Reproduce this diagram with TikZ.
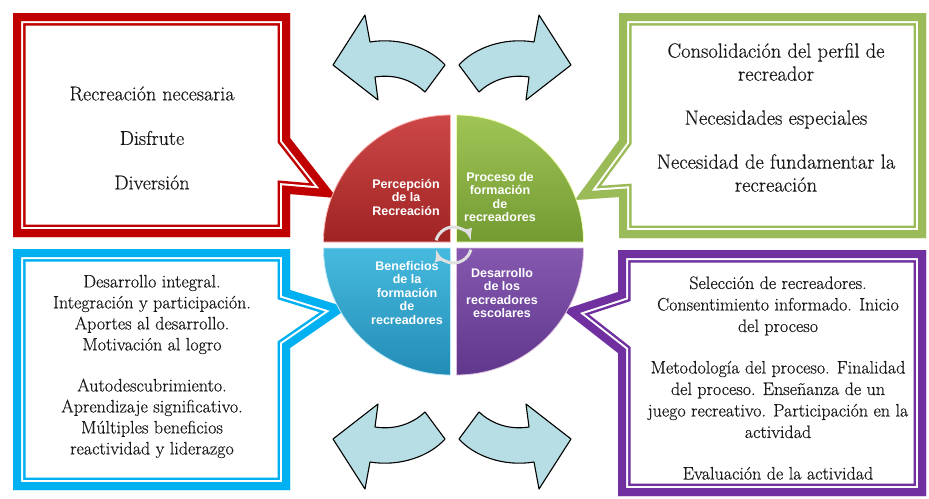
\documentclass[tikz,border=0pt]{standalone}
\usepackage{fontspec}
\setmainfont{Latin Modern Roman}
\newfontfamily\boxfont{Latin Modern Roman}[FakeBold=0.5]
\newfontfamily\quadfont{Liberation Sans}
\usetikzlibrary{arrows}

\definecolor{boxred}{RGB}{192,0,0}
\definecolor{boxgreen}{RGB}{155,187,89}
\definecolor{boxblue}{RGB}{0,176,240}
\definecolor{boxpurple}{RGB}{112,48,160}
\definecolor{arrowfill}{RGB}{183,222,228}

% callout with a thick outer and a thin inner border
\newcommand{\bubble}[2]{%
  \begin{scope}
    \clip #2;
    \draw[#1, line width=25pt] #2;
    \draw[white, line width=20pt] #2;
    \draw[#1, line width=16pt] #2;
  \end{scope}}

\begin{document}
\begin{tikzpicture}[x=1pt, y=1pt,
    quadlabel/.style={text=white, align=center, font=\quadfont\bfseries\fontsize{12.5}{13.5}\selectfont},
    bigtext/.style={align=center, text=black!90, font=\boxfont\fontsize{20}{22.5}\selectfont},
    smalltext/.style={align=center, text=black!90, font=\boxfont\fontsize{18}{21}\selectfont},
    bluearrow/.style={draw=black, fill=arrowfill, line width=1.1pt, line join=round},
    cyc/.style={draw=gray!25, line width=3pt, -latex}]
    \useasboundingbox (0,0) rectangle (929,-498);

    % callout boxes
    \bubble{boxred}{(13,-13) -- (290,-13) -- (290,-138) -- (337,-198) -- (290,-194) -- (290,-237) -- (13,-237) -- cycle}
    \bubble{boxgreen}{(619,-13) -- (926,-13) -- (926,-238) -- (619,-238) -- (619,-197) -- (575,-200) -- (619,-140) -- cycle}
    \bubble{boxblue}{(13,-249) -- (290,-249) -- (290,-290) -- (348,-308) -- (290,-348) -- (290,-490) -- (13,-490) -- cycle}
    \bubble{boxpurple}{(618,-250) -- (926,-250) -- (926,-496) -- (618,-496) -- (618,-353) -- (563,-310) -- (618,-292) -- cycle}

    % curved arrows
    \foreach \sx/\sy in {1/1,-1/1,1/-1,-1/-1}
        \draw[bluearrow, shift={(452,-252)}, xscale=\sx, yscale=\sy]
            (-119,187) -- (-87,237) -- (-82,210) .. controls (-52,215) and (-22,204) .. (-7,187)
            -- (-27,160) .. controls (-40,172) and (-57,178) .. (-77,175) -- (-74,152) -- cycle;

    % circle in four parts
    \coordinate (mid) at (453.5,-245);
    \shade[top color={rgb,255:red,205;green,72;blue,72}, bottom color={rgb,255:red,160;green,35;blue,35}, draw=red!30, line width=0.8pt]
        (450.5,-242) -- ++(-127,0) arc[start angle=180, end angle=90, radius=127] -- cycle;
    \shade[top color={rgb,255:red,160;green,196;blue,86}, bottom color={rgb,255:red,115;green,155;blue,50}, draw=green!20!yellow!30, line width=0.8pt]
        (456.5,-242) -- ++(0,127) arc[start angle=90, end angle=0, radius=127] -- cycle;
    \shade[top color={rgb,255:red,134;green,88;blue,176}, bottom color={rgb,255:red,95;green,55;blue,140}, draw=violet!25, line width=0.8pt]
        (456.5,-248) -- ++(127,0) arc[start angle=0, end angle=-90, radius=127] -- cycle;
    \shade[top color={rgb,255:red,70;green,186;blue,222}, bottom color={rgb,255:red,35;green,140;blue,182}, draw=cyan!25, line width=0.8pt]
        (450.5,-248) -- ++(0,-127) arc[start angle=270, end angle=180, radius=127] -- cycle;

    \draw[cyc] ([shift={(165:18)}]mid) arc[start angle=165, end angle=15, radius=18];
    \draw[cyc] ([shift={(-15:18)}]mid) arc[start angle=-15, end angle=-165, radius=18];

    \node[quadlabel] (percep) at (406,-197) {Percepción\\de la\\Recreación};
    \node[quadlabel] (proceso) at (500,-197) {Proceso de\\formación\\de\\recreadores};
    \node[quadlabel] (benef) at (407,-293) {Beneficios\\de la\\formación\\de\\recreadores};
    \node[quadlabel] (desarr) at (502,-293) {Desarrollo\\de los\\recreadores\\escolares};

    % texts in the boxes
    \node[bigtext] (redtext) at (152,-138) {Recreación necesaria\\[22pt]Disfrute\\[22pt]Diversión};
    \node[bigtext, font=\boxfont\fontsize{20.5}{23}\selectfont] (greentext) at (776,-117.5) {Consolidación del perfil de\\recreador\\[21pt]Necesidades especiales\\[21pt]Necesidad de fundamentar la\\recreación};
    \node[smalltext] (bluetext) at (152,-366.5) {Desarrollo integral.\\Integración y participación.\\Aportes al desarrollo.\\Motivación al logro\\[20pt]Autodescubrimiento.\\Aprendizaje significativo.\\Múltiples beneficios\\reactividad y liderazgo};
    \node[smalltext, font=\boxfont\fontsize{18}{21.5}\selectfont] (purpletext) at (778,-378) {Selección de recreadores.\\Consentimiento informado. Inicio\\del proceso\\[20pt]Metodología del proceso. Finalidad\\del proceso. Enseñanza de un\\juego recreativo. Participación en la\\actividad\\[20pt]Evaluación de la actividad};
\end{tikzpicture}
\end{document}
